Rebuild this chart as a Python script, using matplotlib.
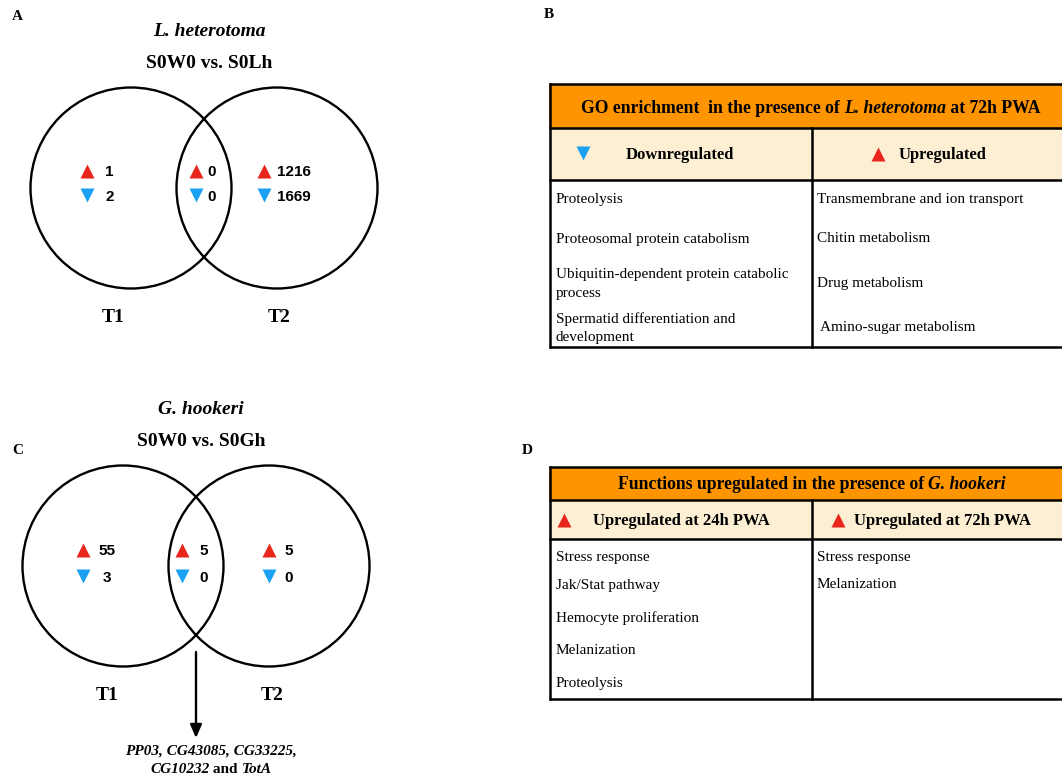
import matplotlib.pyplot as plt
from matplotlib.patches import Circle, Rectangle

plt.rcParams['font.family'] = 'Liberation Serif'

RED = '#e8261c'
BLUE = '#1ba1f2'
ORANGE = '#fd9400'
CREAM = '#fdefd4'

# Venn counts: [T1 only, shared, T2 only]
venn_a_up = [1, 0, 1216]
venn_a_down = [2, 0, 1669]
venn_c_up = [55, 5, 5]
venn_c_down = [3, 0, 0]

genes_line1 = [('PP03, CG43085, CG33225,', 'bi')]
genes_line2 = [('CG10232', 'bi'), (' and ', 'b'), ('TotA', 'bi')]

b_title = [('GO enrichment  in the presence of ', 'b'), ('L. heterotoma', 'bi'), (' at 72h PWA', 'b')]
b_down = ['Proteolysis', 'Proteosomal protein catabolism',
          'Ubiquitin-dependent protein catabolic\nprocess',
          'Spermatid differentiation and\ndevelopment']
b_up = ['Transmembrane and ion transport', 'Chitin metabolism',
        'Drug metabolism', ' Amino-sugar metabolism']

d_title = [('Functions upregulated in the presence of ', 'b'), ('G. hookeri', 'bi')]
d_24h = ['Stress response', 'Jak/Stat pathway', 'Hemocyte proliferation',
         'Melanization', 'Proteolysis']
d_72h = ['Stress response', 'Melanization']

W, H = 1062, 777
fig = plt.figure(figsize=(W / 100, H / 100), dpi=100)
ax = fig.add_axes([0, 0, 1, 1])
ax.set_xlim(0, W)
ax.set_ylim(H, 0)
ax.axis('off')
renderer = fig.canvas.get_renderer()


def styled(style):
    return dict(fontweight='bold' if 'b' in style else 'normal',
                fontstyle='italic' if 'i' in style else 'normal')


def segments(xc, y, parts, size):
    # lay out mixed bold / italic pieces on one baseline, centred on xc
    texts = [ax.text(0, y, s, fontsize=size, va='baseline', ha='left', **styled(st))
             for s, st in parts]
    widths = [t.get_window_extent(renderer).width for t in texts]
    x = xc - sum(widths) / 2
    for t, w in zip(texts, widths):
        t.set_x(x)
        x += w


def venn(cx, cy, r, up, down, marker_x, up_x, down_x, y_up, y_down, title, sub, label_y, t_y, t_x):
    mid = cx[0] + (cx[1] - cx[0]) / 2 + 5
    ax.text(mid, label_y[0], title, fontsize=14, fontweight='bold',
            fontstyle='italic', ha='center', va='center')
    ax.text(mid, label_y[1], sub, fontsize=14, fontweight='bold', ha='center', va='center')
    for x in cx:
        ax.add_patch(Circle((x, cy), r, fill=False, lw=1.7, ec='black'))
    for mx, ux, dx, u, d in zip(marker_x, up_x, down_x, up, down):
        ax.plot(mx, y_up, marker='^', ms=10, color=RED, mec='none')
        ax.plot(mx, y_down, marker='v', ms=10, color=BLUE, mec='none')
        ax.text(ux, y_up + 1, str(u), fontsize=11, fontweight='bold',
                family='Liberation Sans', ha='left', va='center')
        ax.text(dx, y_down + 2, str(d), fontsize=11, fontweight='bold',
                family='Liberation Sans', ha='left', va='center')
    for x, s in zip(t_x, ['T1', 'T2']):
        ax.text(x, t_y, s, fontsize=14, fontweight='bold', ha='center', va='center')


# panel A
ax.text(12, 16, 'A', fontsize=11, fontweight='bold', va='center')
venn([131, 277], 188, 100.5, venn_a_up, venn_a_down,
     [87, 196, 264], [105, 207, 277], [105, 207, 277], 171, 195,
     'L. heterotoma', 'S0W0 vs. S0Lh', [32, 63], 318, [113, 279])

# panel C
ax.text(12, 451, 'C', fontsize=11, fontweight='bold', va='center')
venn([123, 269], 566, 100.5, venn_c_up, venn_c_down,
     [83, 182, 269], [98, 199, 284], [103, 199, 284], 550, 576,
     'G. hookeri', 'S0W0 vs. S0Gh', [409, 441], 696, [107, 272])
ax.annotate('', xy=(196, 738), xytext=(196, 652),
            arrowprops=dict(arrowstyle='-|>,head_length=0.8,head_width=0.35',
                            lw=1.7, color='black', shrinkA=0, shrinkB=0))
segments(211, 755, genes_line1, 11)
segments(211, 773, genes_line2, 11)


def table(top, head_bot, sub_bot, bottom, divider):
    ax.add_patch(Rectangle((549, top), 540, head_bot - top, fc=ORANGE, ec='none'))
    ax.add_patch(Rectangle((549, head_bot), 540, sub_bot - head_bot, fc=CREAM, ec='none'))
    for y in [top, head_bot, sub_bot, bottom]:
        ax.plot([549, 1080], [y, y], color='black', lw=1.8, solid_capstyle='butt')
    ax.plot([550, 550], [top, bottom], color='black', lw=1.8)
    ax.plot([divider, divider], [head_bot, bottom], color='black', lw=1.8)


# panel B
ax.text(544, 15, 'B', fontsize=11, fontweight='bold', va='center')
table(84, 128, 180, 347, 812)
segments(811, 113, b_title, 12.7)
ax.plot(583, 153, marker='v', ms=10, color=BLUE, mec='none')
ax.text(680, 155, 'Downregulated', fontsize=12, fontweight='bold', ha='center', va='center')
ax.plot(878, 154, marker='^', ms=10, color=RED, mec='none')
ax.text(899, 155, 'Upregulated', fontsize=12, fontweight='bold', ha='left', va='center')
row_y_b = [200, 239, 284, 328]
for y, s in zip(row_y_b, b_down):
    ax.text(556, y, s, fontsize=11, ha='left', va='center', linespacing=1.55)
for y, s in zip(row_y_b, b_up):
    ax.text(817, y, s, fontsize=11, ha='left', va='center', linespacing=1.55)

# panel D
ax.text(522, 450, 'D', fontsize=11, fontweight='bold', va='center')
table(467, 500, 539, 699, 812)
segments(812, 489, d_title, 12.7)
ax.plot(564, 520, marker='^', ms=10, color=RED, mec='none')
ax.text(593, 521, 'Upregulated at 24h PWA', fontsize=12, fontweight='bold', ha='left', va='center')
ax.plot(838, 520, marker='^', ms=10, color=RED, mec='none')
ax.text(854, 521, 'Upregulated at 72h PWA', fontsize=12, fontweight='bold', ha='left', va='center')
row_y_d = [557, 585, 618, 651, 684]
for y, s in zip(row_y_d, d_24h):
    ax.text(556, y, s, fontsize=11, ha='left', va='center')
for y, s in zip(row_y_d, d_72h):
    ax.text(817, y, s, fontsize=11, ha='left', va='center')

fig.savefig('out.png', dpi=100)
